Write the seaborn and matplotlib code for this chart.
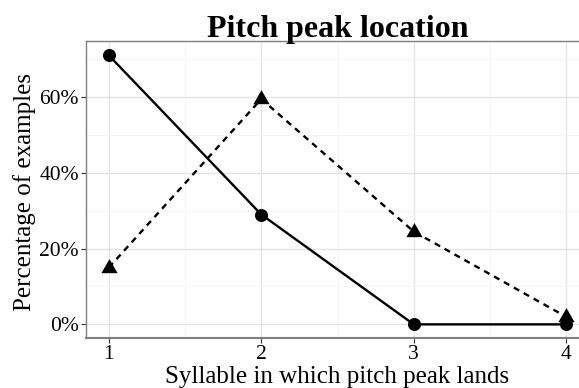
import matplotlib
matplotlib.use("Agg")
import matplotlib.pyplot as plt
import seaborn as sns
import pandas as pd
from matplotlib.ticker import FuncFormatter, MultipleLocator

# syllable positions and share of examples (%) per series
syllables = [1, 2, 3, 4]
series_circle = [71, 29, 0, 0]
series_triangle = [15, 59.5, 24.5, 2]

y_ticks = [0, 20, 40, 60]
x_ticks = [1, 2, 3, 4]

sns.set_theme(style="white")
plt.rcParams['font.family'] = ['Liberation Serif', 'DejaVu Serif']
plt.rcParams['text.color'] = 'black'
plt.rcParams['axes.labelcolor'] = 'black'

df_c = pd.DataFrame({'syl': syllables, 'pct': series_circle})
df_t = pd.DataFrame({'syl': syllables, 'pct': series_triangle})

fig = plt.figure(figsize=(5.79, 3.88), dpi=100)
ax = fig.add_axes([86 / 579, 50 / 388, 503 / 579, 297 / 388])

# ggplot-ish triangle, centred on its centroid
tri = [(0, 1), (0.866, -0.5), (-0.866, -0.5), (0, 1)]

sns.lineplot(data=df_c, x='syl', y='pct', ax=ax, color='black', lw=1.7,
             marker='o', markersize=9.4, mew=0, zorder=3)
sns.lineplot(data=df_t, x='syl', y='pct', ax=ax, color='black', lw=1.7,
             marker=tri, markersize=13.5, mew=0, dashes=(2.6, 2.2), zorder=3)

ax.set_xlim(0.85, 4.15)
ax.set_ylim(-3.6, 74.8)
ax.set_xticks(x_ticks)
ax.set_yticks(y_ticks)
ax.xaxis.set_minor_locator(MultipleLocator(0.5))
ax.yaxis.set_minor_locator(MultipleLocator(10))
ax.yaxis.set_major_formatter(FuncFormatter(lambda v, p: f"{v:.0f}%"))

ax.grid(which='major', color='#e5e5e5', lw=1.0)
ax.grid(which='minor', color='#f5f5f5', lw=0.8)
ax.set_axisbelow(True)

ax.tick_params(axis='both', which='major', length=3.6, width=0.8, color='#333333',
               labelsize=15.5, labelcolor='black', pad=1.5, bottom=True, left=True)
ax.tick_params(which='minor', length=0)

for side in ['left', 'top']:
    ax.spines[side].set_color('#7f7f7f')
    ax.spines[side].set_linewidth(1.0)
ax.spines['right'].set_visible(False)
ax.spines['bottom'].set_color('#7f7f7f')
ax.spines['bottom'].set_linewidth(1.5)

ax.set_title('Pitch peak location', fontsize=23, fontweight='bold', pad=3)
ax.set_xlabel('Syllable in which pitch peak lands', fontsize=18)
ax.set_ylabel('Percentage of examples', fontsize=18)
ax.xaxis.set_label_coords(0.5, -0.093)
ax.yaxis.set_label_coords(-0.099, 0.49)

fig.savefig('out.png', dpi=100)
